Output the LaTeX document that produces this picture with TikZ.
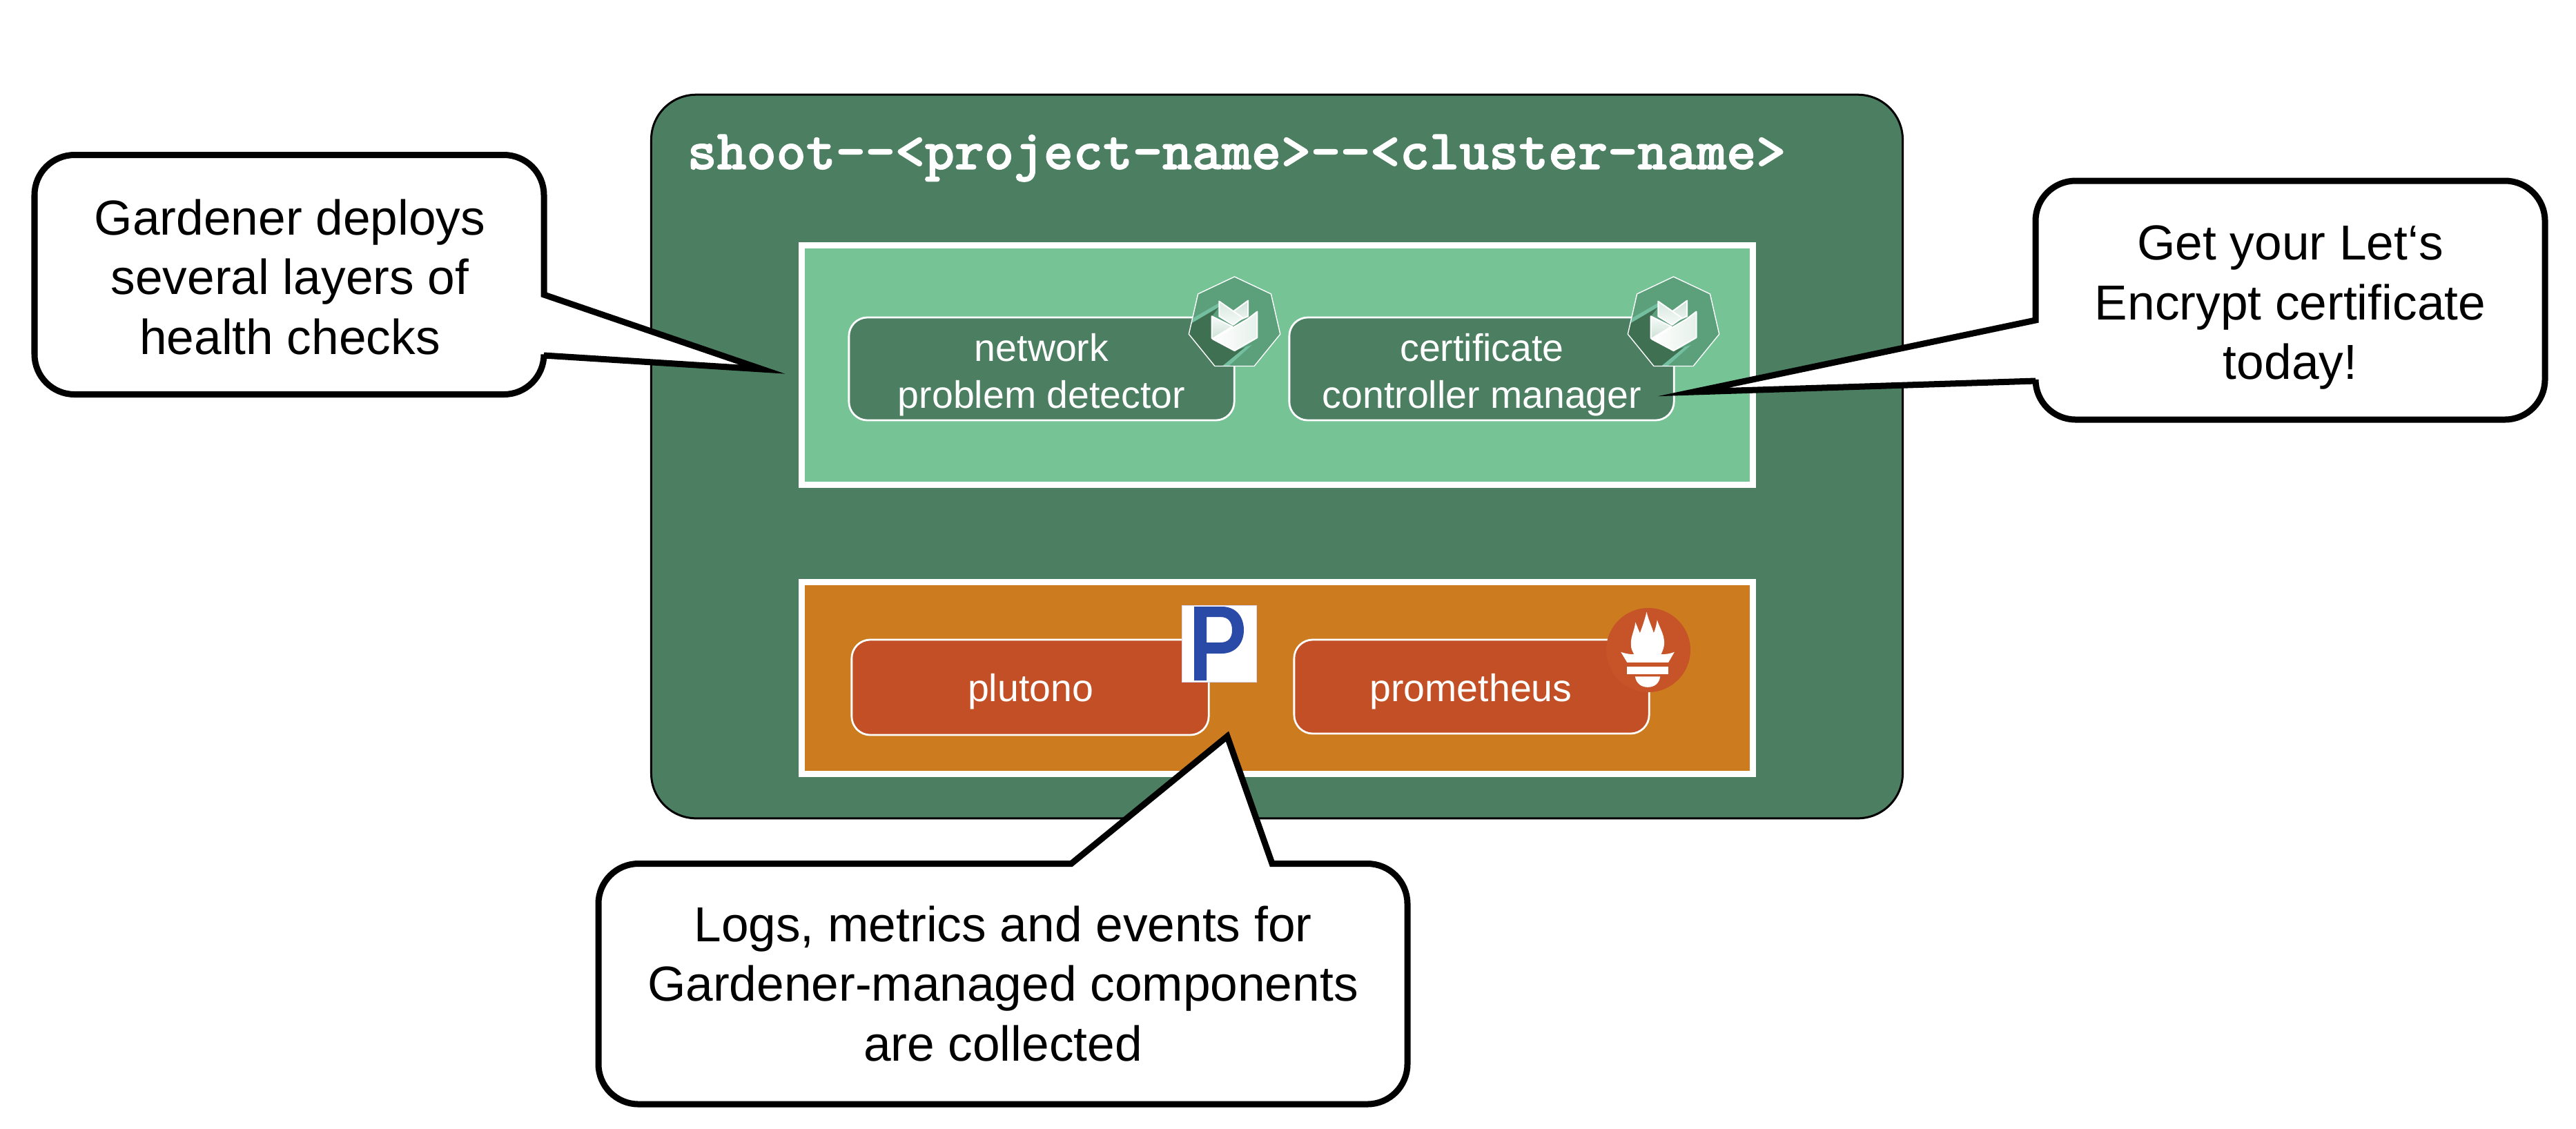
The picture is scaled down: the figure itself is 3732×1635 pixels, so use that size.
\documentclass[tikz,border=0pt]{standalone}
\usepackage{fontspec}
\setmainfont{Liberation Sans}[Ligatures=NoCommon]
\newfontfamily\titlefont{Latin Modern Mono Light}[BoldFeatures={FakeBold=1.5}]
\definecolor{shootgreen}{HTML}{4C7F62}
\definecolor{panelgreen}{HTML}{76C496}
\definecolor{panelorange}{HTML}{CC7B1F}
\definecolor{cardred}{HTML}{C24F25}
\definecolor{promred}{HTML}{C65428}
\definecolor{heptfill}{HTML}{5B9F7B}
\definecolor{heptdark}{HTML}{3F7052}
\definecolor{heptstripe}{HTML}{74BFA0}
\definecolor{pblue}{HTML}{2A4AA8}
\tikzset{
  shootbox/.style={draw=black,fill=shootgreen,line width=0.03cm,rounded corners=0.65cm,
    minimum width=18.12cm,minimum height=10.48cm,inner sep=0pt,outer sep=0pt},
  panelbox/.style={draw=white,line width=0.09cm,inner sep=0pt,outer sep=0pt,minimum width=13.77cm},
  cardbox/.style={draw=white,line width=0.028cm,rounded corners=0.27cm,inner sep=0pt,outer sep=0pt},
  bubble/.style={draw=black,fill=white,line width=0.09cm,line join=miter,miter limit=20},
  bubbletext/.style={inner sep=0pt,align=center,text=black,font=\fontsize{20.26pt}{24.6pt}\selectfont},
  cardtext/.style={inner sep=0pt,align=center,text=white,font=\fontsize{15.77pt}{19.35pt}\selectfont},
  titletext/.style={inner sep=0pt,text=white,font=\titlefont\bfseries\fontsize{23.3pt}{26pt}\selectfont},
  petal/.style={draw=white,line width=0.02cm,line join=round},
}
\newcommand{\gardicon}[1]{%
  \begin{scope}[shift={(#1,390)},x=0.003333cm,y=-0.003333cm]
    \fill[heptfill] (254,33) -- (413,108) -- (453,283) -- (340,422) -- (168,422) -- (55,283) -- (95,108) -- cycle;
    \fill[heptstripe] (187,147) -- (75,212) -- (66,240) -- (187,170) -- cycle;
    \fill[heptstripe] (300,340) -- (200,422) -- (228,422) -- (330,330) -- cycle;
    \fill[heptdark] (187,165) -- (68,235) -- (55,283) -- (168,422) -- (200,422) -- (300,340) -- (254,355) -- (155,300) -- (155,205) -- cycle;
    \draw[white,line width=0.014cm,line join=round] (254,33) -- (413,108) -- (453,283) -- (340,422) -- (168,422) -- (55,283) -- (95,108) -- cycle;
    \shade[petal,top color=white!70!heptfill,bottom color=white!90!heptfill] (313,137) -- (313,205) -- (250,232) -- (250,183) -- cycle;
    \shade[petal,top color=white!75!heptfill,bottom color=white!95!heptfill] (187,140) -- (187,205) -- (248,243) -- (290,212) -- cycle;
    \shade[petal,top color=white!95!heptfill,bottom color=white!70!heptfill] (155,205) -- (245,250) -- (158,303) -- (155,300) -- cycle;
    \shade[petal,left color=white,right color=white!85!heptfill] (353,185) -- (353,298) -- (254,355) -- (160,305) -- (310,218) -- cycle;
  \end{scope}}
\begin{document}
\begin{tikzpicture}[x=0.01cm,y=-0.01cm]
\useasboundingbox (0,0) rectangle (3732,1635);
\fill[white] (0,0) rectangle (3732,1635);

% shoot namespace
\node (shoot) [shootbox] at (1850,661.5) {};
\node (title) [titletext,anchor=base west] at (995,245) {shoot{-}{-}<project{-}name>{-}{-}<cluster{-}name>};

% panels
\node (greenpanel) [panelbox,fill=panelgreen,minimum height=3.46cm] at (1850.5,529) {};
\node (orangepanel) [panelbox,fill=panelorange,minimum height=2.78cm] at (1850.5,982.5) {};

% cards
\node (npd) [cardbox,fill=shootgreen,minimum width=5.58cm,minimum height=1.49cm] at (1509,534.5) {};
\node (ccm) [cardbox,fill=shootgreen,minimum width=5.57cm,minimum height=1.49cm] at (2146.5,534.5) {};
\node (plu) [cardbox,fill=cardred,minimum width=5.17cm,minimum height=1.38cm] at (1492.5,996) {};
\node (pro) [cardbox,fill=cardred,minimum width=5.14cm,minimum height=1.36cm] at (2132,995) {};

% gardener icons
\gardicon{1704}
\gardicon{2340}

% plutono icon
\fill[white,draw=blue!15!white,line width=0.01cm] (1712,877) rectangle (1820,988);
\fill[pblue,even odd rule] (1730,879) -- (1770,879) .. controls (1792,879) and (1802,895) .. (1802,913) .. controls (1802,932) and (1790,947) .. (1770,947) -- (1748,947) -- (1748,986) -- (1730,986) -- cycle
  (1748,894) -- (1768,894) .. controls (1780,894) and (1785,902) .. (1785,913) .. controls (1785,924) and (1780,931) .. (1768,931) -- (1748,931) -- cycle;

% prometheus icon
\fill[promred] (2388,942) circle [radius=61];
\begin{scope}[shift={(2300,860)},x=0.003333cm,y=-0.003333cm]
  \fill[white] (190,235) .. controls (183,190) and (205,165) .. (208,125) .. controls (215,140) and (222,160) .. (228,172)
    .. controls (240,140) and (250,110) .. (257,80) .. controls (265,115) and (280,145) .. (288,172)
    .. controls (295,155) and (300,135) .. (303,115) .. controls (312,150) and (345,190) .. (330,240)
    .. controls (328,250) and (322,258) .. (320,265) .. controls (340,265) and (360,262) .. (378,255)
    -- (352,300) -- (172,300) -- (145,255) .. controls (165,262) and (185,265) .. (202,265) .. controls (198,255) and (192,247) .. (190,235) -- cycle;
  \fill[white] (172,318) rectangle (352,350);
  \fill[white] (207,362) -- (316,362) .. controls (312,392) and (290,408) .. (262,408) .. controls (234,408) and (212,392) .. (207,362) -- cycle;
\end{scope}

% card labels
\node (npdtext) [cardtext] at (1509,543) {network\\problem detector};
\node (ccmtext) [cardtext] at (2147,543) {certificate\\controller manager};
\node (plutext) [cardtext,anchor=base] at (1493,1016) {plutono};
\node (protext) [cardtext,anchor=base] at (2131,1016) {prometheus};

% callouts
\draw[bubble] (788,515) -- (1104,535) -- (788,427) [rounded corners=0.58cm] -- (788,224.5) -- (50,224.5) -- (50,571.5) -- (788,571.5) [sharp corners] -- cycle;
\draw[bubble] (2949,464) -- (2453,568) -- (2949,552) [rounded corners=0.58cm] -- (2949,608) -- (3687,608) -- (3687,262) -- (2949,262) [sharp corners] -- cycle;
\draw[bubble] (1552,1251.5) -- (1778,1067) -- (1843,1251.5) [rounded corners=0.58cm] -- (2039,1251.5) -- (2039,1600) -- (867,1600) -- (867,1251.5) [sharp corners] -- cycle;

\node (lefttext) [bubbletext] at (420,401.5) {Gardener deploys\\several layers of\\health checks};
\node (righttext) [bubbletext] at (3318,445.5) {Get your Let‘s\\Encrypt certificate\\today!};
\node (bottomtext) [bubbletext] at (1453,1425.5) {Logs, metrics and events for\\Gardener-managed components\\are collected};
\end{tikzpicture}
\end{document}
